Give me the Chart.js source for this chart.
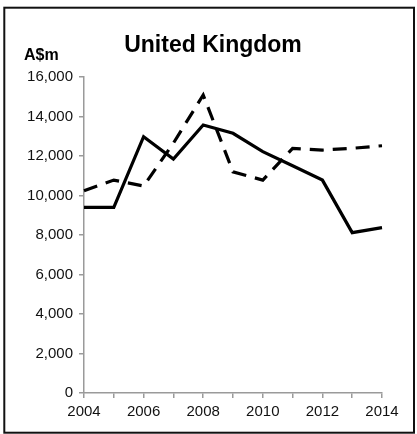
<!DOCTYPE html>
<html>
<head>
<meta charset="utf-8">
<script src="https://cdn.jsdelivr.net/npm/chart.js@4"></script>
<style>
  html, body { margin: 0; padding: 0; background: #fff; }
  #wrap { width: 417px; height: 434px; }
</style>
</head>
<body>
<div id="wrap"><canvas id="uk-chart" width="417" height="434"></canvas></div>
<script>
    const years = ["2004", "2005", "2006", "2007", "2008", "2009", "2010", "2011", "2012", "2013", "2014"];
    const solidSeries = [9400, 9400, 12980, 11850, 13570, 13150, 12220, 11510, 10780, 8120, 8370];
    const dashedSeries = [10240, 10780, 10480, 12650, 15090, 11200, 10780, 12390, 12300, 12390, 12520];
    const yTicks = [0, 2000, 4000, 6000, 8000, 10000, 12000, 14000, 16000];
    const chartTitle = "United Kingdom";
    const unitLabel = "A$m";

    const fontFamily = '"Liberation Sans", Arial, sans-serif';
    const axisGrey = '#9a9a9a';

    // frame, title and unit label
    const decorations = {
        id: 'decorations',
        afterDraw(chart) {
            const ctx = chart.ctx;
            ctx.save();
            ctx.strokeStyle = '#111';
            ctx.lineWidth = 2;
            ctx.strokeRect(4.3, 7.7, 409.7, 425);

            ctx.fillStyle = '#000';
            ctx.textBaseline = 'alphabetic';
            ctx.textAlign = 'center';
            ctx.font = 'bold 23px ' + fontFamily;
            ctx.fillText(chartTitle, 213, 52);

            ctx.textAlign = 'left';
            ctx.font = 'bold 16px ' + fontFamily;
            ctx.fillText(unitLabel, 24, 60);
            ctx.restore();
        }
    };

    new Chart(document.querySelector('#uk-chart').getContext('2d'), {
        type: 'line',
        data: {
            labels: years,
            datasets: [
                {
                    label: 'Solid',
                    data: solidSeries,
                    borderColor: '#000',
                    borderWidth: 3.2,
                    pointRadius: 0,
                    tension: 0,
                    fill: false
                },
                {
                    label: 'Dashed',
                    data: dashedSeries,
                    borderColor: '#000',
                    borderWidth: 3.2,
                    borderDash: [14, 9],
                    borderCapStyle: 'butt',
                    pointRadius: 0,
                    tension: 0,
                    fill: false
                }
            ]
        },
        options: {
            responsive: false,
            animation: false,
            devicePixelRatio: 1,
            layout: {
                autoPadding: false,
                padding: { left: 0, right: 35, top: 77, bottom: 0 }
            },
            plugins: {
                legend: { display: false },
                title: { display: false },
                tooltip: { enabled: false }
            },
            scales: {
                x: {
                    type: 'category',
                    offset: false,
                    afterFit: scale => { scale.height = 41; },
                    grid: {
                        drawOnChartArea: false,
                        drawTicks: true,
                        tickLength: 5,
                        color: axisGrey,
                        lineWidth: 1.5
                    },
                    border: { display: true, color: axisGrey, width: 1.5 },
                    ticks: {
                        autoSkip: false,
                        maxRotation: 0,
                        padding: 5,
                        color: '#111',
                        font: { family: fontFamily, size: 15 },
                        callback: function (value, index) {
                            return index % 2 === 0 ? years[index] : '';
                        }
                    }
                },
                y: {
                    min: 0,
                    max: 16000,
                    afterFit: scale => { scale.width = 84; },
                    afterBuildTicks: scale => {
                        scale.ticks = yTicks.map(v => ({ value: v }));
                    },
                    grid: {
                        drawOnChartArea: false,
                        drawTicks: true,
                        tickLength: 5,
                        color: axisGrey,
                        lineWidth: 1.5
                    },
                    border: { display: true, color: axisGrey, width: 1.5 },
                    ticks: {
                        padding: 6,
                        color: '#111',
                        font: { family: fontFamily, size: 15 },
                        callback: value => value.toLocaleString('en-US')
                    }
                }
            }
        },
        plugins: [decorations]
    });
</script>
</body>
</html>
